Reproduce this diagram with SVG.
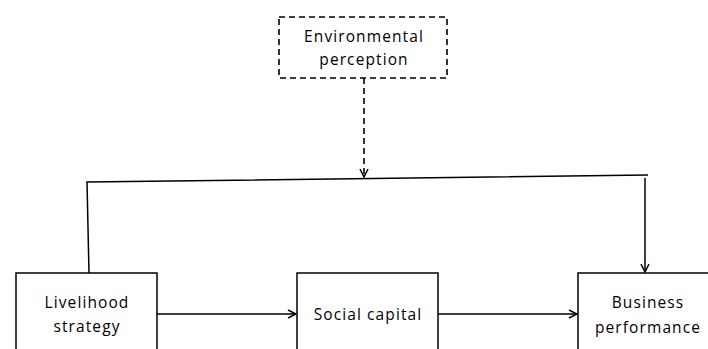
<svg xmlns="http://www.w3.org/2000/svg" width="708" height="349" viewBox="0 0 708 349">
<style>
.box{fill:#fff;stroke:#000;stroke-width:1.5}
.dbox{fill:#fff;stroke:#000;stroke-width:1.6;stroke-dasharray:6 4}
.ln{fill:none;stroke:#000;stroke-width:1.5}
.dln{fill:none;stroke:#000;stroke-width:1.6;stroke-dasharray:6 4}
text{font-family:"Open Sans","Liberation Sans",sans-serif;font-size:15.5px;letter-spacing:1.1px;fill:#000;text-anchor:middle}
</style>
<defs>
<marker id="ah" viewBox="0 0 10 10" refX="9" refY="5" markerWidth="10" markerHeight="10" markerUnits="userSpaceOnUse" orient="auto">
<path d="M1,1 L9,5 L1,9" fill="none" stroke="#000" stroke-width="1.5"/>
</marker>
</defs>
<g id="connectors">
<path class="dln" d="M364,78 L364,177" marker-end="url(#ah)"/>
<path class="ln" d="M89,273 L87,182 L648,175"/>
<path class="ln" d="M645,178 L645,272" marker-end="url(#ah)"/>
<path class="ln" d="M157,314 L296,314" marker-end="url(#ah)"/>
<path class="ln" d="M438,314 L577,314" marker-end="url(#ah)"/>
</g>
<g id="environmental-perception">
<rect class="dbox" x="279" y="17" width="168" height="61"/>
<text x="364" y="42">Environmental</text>
<text x="364" y="65">perception</text>
</g>
<g id="livelihood-strategy">
<rect class="box" x="16" y="273" width="141" height="90"/>
<text x="87" y="308">Livelihood</text>
<text x="87" y="332">strategy</text>
</g>
<g id="social-capital">
<rect class="box" x="297" y="273" width="141" height="90"/>
<text x="368" y="320">Social capital</text>
</g>
<g id="business-performance">
<rect class="box" x="578" y="273" width="141" height="90"/>
<text x="648" y="308">Business</text>
<text x="648" y="333">performance</text>
</g>
</svg>
